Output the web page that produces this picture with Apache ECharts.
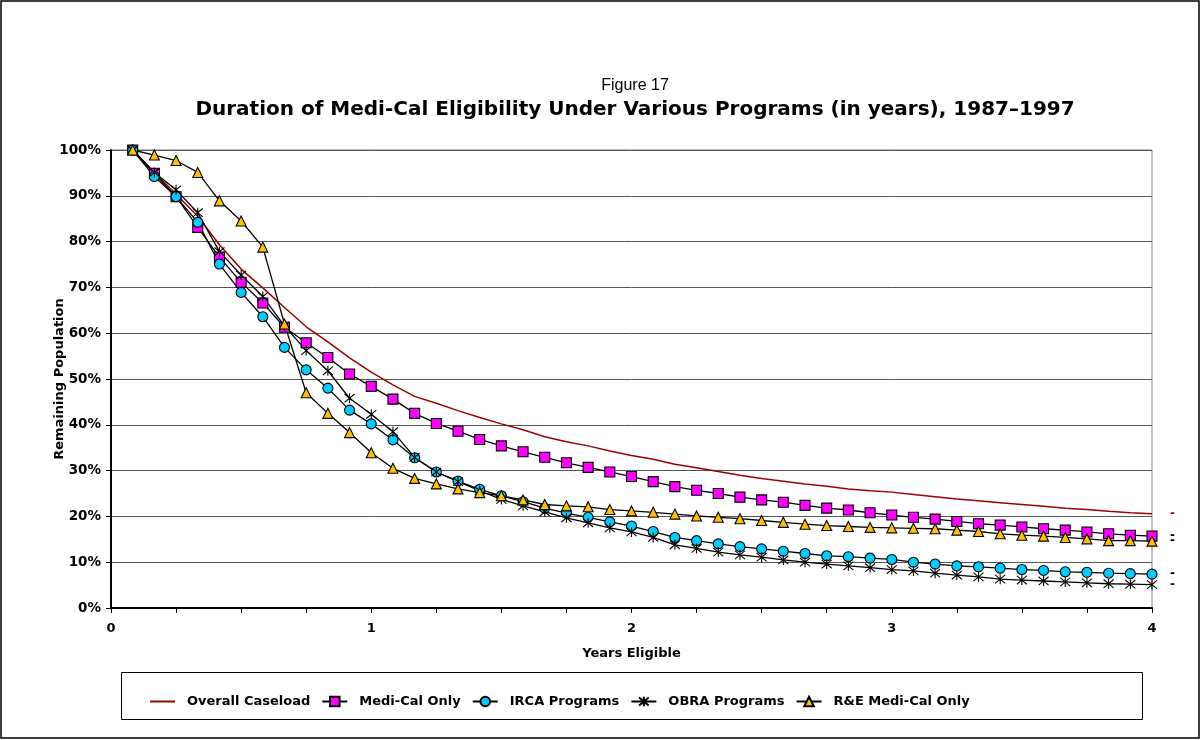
<!DOCTYPE html>
<html>
<head>
<meta charset="utf-8">
<title>Figure 17</title>
<script src="https://cdn.jsdelivr.net/npm/echarts@6/dist/echarts.min.js"></script>
<style>
  html, body { margin: 0; padding: 0; background: #fff; }
  #chart { width: 1201px; height: 740px; }
</style>
</head>
<body>
<div id="chart"></div>
<script>
// Years eligible: one point per month, 1/12 .. 48/12
const monthsPerYear = 12;

const seriesNames = ['Overall Caseload', 'Medi-Cal Only', 'IRCA Programs', 'OBRA Programs', 'R&E Medi-Cal Only'];

// Remaining population (%) at the end of each month
const overallCaseload = [100, 95.0, 90.4, 85.5, 79.3, 74.0, 69.9, 65.6, 61.4, 58.1,
  54.6, 51.5, 48.7, 46.2, 44.7, 43.1, 41.6, 40.2, 38.9, 37.4,
  36.3, 35.4, 34.3, 33.3, 32.5, 31.4, 30.6, 29.8, 29.0, 28.3,
  27.7, 27.1, 26.6, 26.0, 25.6, 25.3, 24.8, 24.3, 23.8, 23.4,
  23.0, 22.6, 22.2, 21.8, 21.5, 21.1, 20.8, 20.6];
const mediCalOnly = [100, 94.9, 89.8, 83.1, 76.6, 71.1, 66.6, 61.3, 57.9, 54.7,
  51.1, 48.4, 45.6, 42.5, 40.3, 38.6, 36.8, 35.4, 34.1, 32.9,
  31.7, 30.7, 29.7, 28.7, 27.6, 26.5, 25.7, 25.0, 24.2, 23.6,
  23.1, 22.4, 21.8, 21.4, 20.8, 20.3, 19.8, 19.4, 18.9, 18.4,
  18.1, 17.7, 17.3, 17.0, 16.6, 16.2, 15.9, 15.7];
const ircaPrograms = [100, 94.2, 89.8, 84.2, 75.1, 68.9, 63.6, 56.9, 52.0, 48.0,
  43.2, 40.2, 36.7, 32.8, 29.7, 27.7, 25.9, 24.5, 23.2, 21.8,
  20.7, 19.8, 18.8, 17.9, 16.7, 15.4, 14.7, 14.0, 13.4, 12.9,
  12.4, 11.9, 11.4, 11.2, 10.9, 10.6, 10.0, 9.6, 9.2, 9.0,
  8.7, 8.4, 8.2, 7.9, 7.8, 7.6, 7.5, 7.4];
const obraPrograms = [100, 95.1, 91.3, 86.3, 77.8, 72.7, 68.0, 61.6, 56.2, 51.8,
  45.8, 42.3, 38.5, 32.9, 29.7, 27.6, 25.6, 23.7, 22.3, 21.0,
  19.7, 18.6, 17.5, 16.6, 15.4, 13.8, 13.0, 12.2, 11.6, 11.1,
  10.5, 10.0, 9.6, 9.2, 8.8, 8.4, 8.1, 7.6, 7.2, 6.8,
  6.3, 6.1, 5.9, 5.7, 5.5, 5.3, 5.2, 5.1];
const reMediCalOnly = [100, 98.9, 97.7, 95.1, 88.9, 84.5, 78.8, 62.0, 47.0, 42.5,
  38.3, 33.9, 30.5, 28.3, 27.1, 26.0, 25.2, 24.5, 23.6, 22.6,
  22.3, 22.1, 21.5, 21.2, 20.9, 20.5, 20.1, 19.8, 19.5, 19.1,
  18.7, 18.3, 18.0, 17.8, 17.6, 17.5, 17.4, 17.3, 17.0, 16.7,
  16.2, 15.9, 15.7, 15.4, 15.1, 14.7, 14.7, 14.6];

const yTickLabels = ['0%', '10%', '20%', '30%', '40%', '50%', '60%', '70%', '80%', '90%', '100%'];
const xTickLabels = ['0', '1', '2', '3', '4'];

const FONT = 'Liberation Sans, Arial, sans-serif';
const BOLD_FONT = 'DejaVu Sans, Verdana, sans-serif';

function pairs(values) {
  return values.map((v, i) => [(i + 1) / monthsPerYear, v]);
}

// asterisk marker: vertical bar plus an X
const starPath = 'path://M5,0L5,10M0.8,0.8L9.2,9.2M9.2,0.8L0.8,9.2';

function markedSeries(name, values, symbol, size, fill, stroke) {
  return {
    name: name,
    type: 'line',
    data: pairs(values),
    symbol: symbol,
    symbolSize: size,
    showAllSymbol: true,
    lineStyle: { color: '#000', width: 1.3 },
    itemStyle: { color: fill, borderColor: stroke || '#000', borderWidth: 1.1 },
    emphasis: { disabled: true },
    z: 3,
    endLabel: {
      show: true, formatter: '-', distance: 18,
      color: '#000', fontFamily: BOLD_FONT, fontWeight: 'bold', fontSize: 12
    }
  };
}

const chart = echarts.init(document.getElementById('chart'), null, { renderer: 'canvas' });

chart.setOption({
  backgroundColor: '#fff',
  animation: false,
  title: [
    {
      text: 'Figure 17', left: 630, top: 73, textAlign: 'center',
      textStyle: { fontFamily: FONT, fontWeight: 'normal', fontSize: 16, color: '#000' }
    },
    {
      text: 'Duration of Medi-Cal Eligibility Under Various Programs (in years), 1987\u20131997',
      left: 630, top: 95, textAlign: 'center',
      textStyle: { fontFamily: BOLD_FONT, fontWeight: 'bold', fontSize: 20, color: '#000' }
    }
  ],
  graphic: [
    {
      type: 'rect', silent: true, z: -1,
      shape: { x: 1, y: 1, width: 1198, height: 737 },
      style: { fill: 'none', stroke: '#000', lineWidth: 1.5 }
    },
    {
      type: 'rect', silent: true,
      shape: { x: 121.5, y: 672.5, width: 1021, height: 47 },
      style: { fill: 'none', stroke: '#000', lineWidth: 1 }
    }
  ],
  legend: {
    data: [
      // plain line sample, no marker
      { name: seriesNames[0], itemStyle: { opacity: 0 } },
      seriesNames[1], seriesNames[2], seriesNames[3], seriesNames[4]
    ],
    left: 144, top: 690,
    itemWidth: 25, itemHeight: 12, itemGap: 11,
    selectedMode: false,
    textStyle: { fontFamily: BOLD_FONT, fontWeight: 'bold', fontSize: 13, color: '#000', padding: [0, 0, 0, 7] }
  },
  grid: {
    left: 111, right: 49, top: 150, bottom: 132,
    show: true, borderColor: '#808080', borderWidth: 1, backgroundColor: 'transparent'
  },
  xAxis: {
    type: 'value', min: 0, max: 4, interval: 1,
    name: 'Years Eligible', nameLocation: 'middle', nameGap: 39,
    nameTextStyle: { fontFamily: BOLD_FONT, fontWeight: 'bold', fontSize: 13, color: '#000' },
    axisLine: { show: true, onZero: false, lineStyle: { color: '#000', width: 2 } },
    axisTick: { show: true, length: 5, lineStyle: { color: '#000', width: 1 } },
    minorTick: { show: true, splitNumber: 4, length: 5, lineStyle: { color: '#000', width: 1 } },
    splitLine: { show: false },
    axisLabel: {
      margin: 14, fontFamily: BOLD_FONT, fontWeight: 'bold', fontSize: 13, color: '#000',
      formatter: (v) => xTickLabels[Math.round(v)]
    }
  },
  yAxis: {
    type: 'value', min: 0, max: 100, interval: 10,
    name: 'Remaining Population', nameLocation: 'middle', nameGap: 45, nameRotate: 90,
    nameMoveOverlap: false,
    nameTextStyle: { fontFamily: BOLD_FONT, fontWeight: 'bold', fontSize: 13, color: '#000' },
    axisLine: { show: true, lineStyle: { color: '#000', width: 2 } },
    axisTick: { show: true, length: 5, lineStyle: { color: '#000', width: 1 } },
    splitLine: { show: true, lineStyle: { color: '#555', width: 1 } },
    axisLabel: {
      margin: 10, fontFamily: BOLD_FONT, fontWeight: 'bold', fontSize: 13.5, color: '#000',
      formatter: (v) => yTickLabels[Math.round(v / 10)]
    }
  },
  series: [
    {
      name: seriesNames[0],
      type: 'line',
      data: pairs(overallCaseload),
      symbol: 'none',
      lineStyle: { color: '#9B0000', width: 1.5 },
      itemStyle: { color: '#9B0000' },
      emphasis: { disabled: true },
      z: 2,
      endLabel: {
        show: true, formatter: '-', distance: 18,
        color: '#9B0000', fontFamily: BOLD_FONT, fontWeight: 'bold', fontSize: 12
      }
    },
    markedSeries(seriesNames[1], mediCalOnly, 'rect', 10, '#FF00FF'),
    markedSeries(seriesNames[2], ircaPrograms, 'circle', 10, '#00CCFF'),
    markedSeries(seriesNames[3], obraPrograms, starPath, 10, 'rgba(0,0,0,0)', '#000'),
    markedSeries(seriesNames[4], reMediCalOnly, 'triangle', 10, '#FFC000')
  ]
});
</script>
</body>
</html>
